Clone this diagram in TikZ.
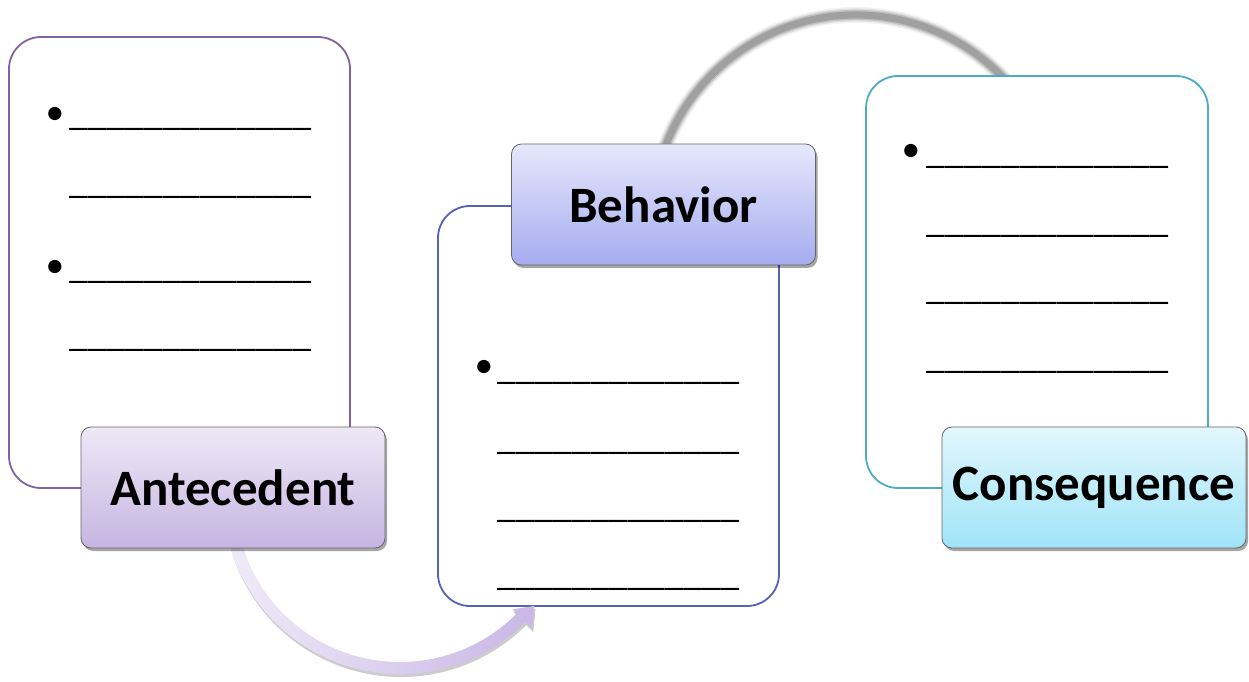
\documentclass[tikz,border=0pt]{standalone}
\usepackage{fontspec}
\setmainfont{Carlito}
\usetikzlibrary{shadows}
\definecolor{apurple}{HTML}{8064A2}
\definecolor{bblue}{HTML}{5562B8}
\definecolor{cteal}{HTML}{4BACC6}
\definecolor{atop}{HTML}{EEE8F6}
\definecolor{abot}{HTML}{C7B5E2}
\definecolor{btop}{HTML}{E6E8FB}
\definecolor{bbot}{HTML}{A5ACF0}
\definecolor{ctop}{HTML}{E2F7FD}
\definecolor{cbot}{HTML}{A0E4F8}
\definecolor{arrlight}{HTML}{EFEAF8}
\definecolor{arrdark}{HTML}{C9B7E5}
\definecolor{greyarc}{HTML}{A0A0A0}
\newcommand{\blankfill}{\_\_\_\_\_\_\_\_\_\_\_\_\_}
\tikzset{
  card/.style={draw, line width=1.8pt, fill=white, rounded corners=32pt, inner sep=0pt},
  labelbox/.style={draw=gray!80!black, line width=0.8pt, rounded corners=10pt,
     minimum width=304pt, minimum height=121pt, inner sep=0pt,
     font=\fontsize{51}{56}\selectfont\bfseries,
     drop shadow={shadow xshift=2pt, shadow yshift=-3pt, opacity=0.35, fill=black}},
  blank/.style={anchor=south west, inner sep=0pt, font=\fontsize{37.4}{40}\selectfont},
  bulletmark/.style={anchor=north, inner sep=0pt, font=\fontsize{37.4}{40}\selectfont},
}
\begin{document}
\begin{tikzpicture}[x=1pt,y=1pt]
\useasboundingbox (0,0) rectangle (1249,681);
% grey arc (behind)
\coordinate (gc) at (856,462);
\foreach \w/\o in {16/0.12, 13/0.25, 10/0.5, 7/1} {
  \draw[greyarc, line width=\w pt, opacity=\o] ([shift={(165:204)}]gc) arc[start angle=165, end angle=43, radius=204pt];
}
% cards
\node[card, draw=apurple, minimum width=341pt, minimum height=451pt] (acard) at (179.5,418.5) {};
\node[card, draw=bblue, minimum width=341pt, minimum height=400pt] (bcard) at (608.5,275) {};
\node[card, draw=cteal, minimum width=342pt, minimum height=412pt] (ccard) at (1037,399) {};
% purple curved arrow
\coordinate (pc) at (400,184);
\path[drop shadow={shadow xshift=1pt, shadow yshift=-3pt, opacity=0.2, fill=black},
      left color=arrlight, middle color=arrdark, right color=arrdark]
  ([shift={(195:177)}]pc) arc[start angle=195, end angle=315, radius=177pt]
  -- ([shift={(315:187)}]pc) -- ([shift={(321:173)}]pc) -- ([shift={(315:159)}]pc)
  -- ([shift={(315:165)}]pc) arc[start angle=315, end angle=195, radius=165pt] -- cycle;
% labels
\node[labelbox, top color=atop, bottom color=abot] (alabel) at (233,193.5) {Antecedent};
\node[labelbox, top color=btop, bottom color=bbot] (blabel) at (663.5,476.5) {Behavior};
\node[labelbox, top color=ctop, bottom color=cbot] (clabel) at (1094,193.5) {Consequence};
% antecedent blanks
\node[bulletmark] (ab1) at (55,574) {•};
\node[blank] (al1) at (69,550.5) {\blankfill};
\node[blank] (al2) at (69,482.5) {\blankfill};
\node[bulletmark] (ab2) at (55,421) {•};
\node[blank] (al3) at (69,397.5) {\blankfill};
\node[blank] (al4) at (69,329.5) {\blankfill};
% behavior blanks
\node[bulletmark] (bb1) at (484,321) {•};
\node[blank] (bl1) at (497,296.5) {\blankfill};
\node[blank] (bl2) at (497,226.5) {\blankfill};
\node[blank] (bl3) at (497,158.5) {\blankfill};
\node[blank] (bl4) at (497,90.5) {\blankfill};
% consequence blanks
\node[bulletmark] (cb1) at (911,537) {•};
\node[blank] (cl1) at (926,512.5) {\blankfill};
\node[blank] (cl2) at (926,443.5) {\blankfill};
\node[blank] (cl3) at (926,376.5) {\blankfill};
\node[blank] (cl4) at (926,307.5) {\blankfill};
\end{tikzpicture}
\end{document}
